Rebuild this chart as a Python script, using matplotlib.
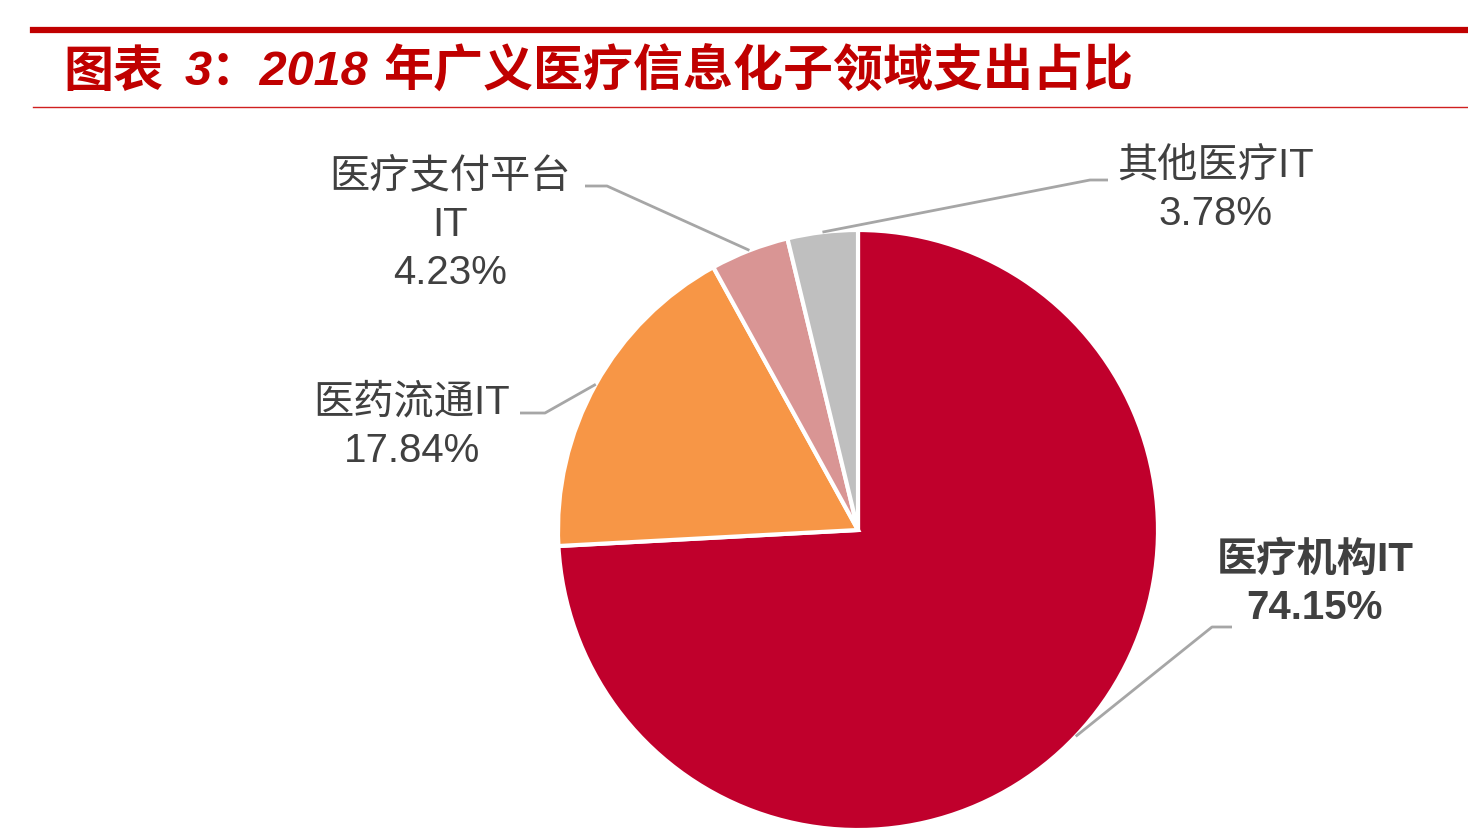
import matplotlib
matplotlib.use("Agg")
import matplotlib.pyplot as plt
import numpy as np

plt.rcParams['font.family'] = ['Liberation Sans', 'Noto Sans CJK SC', 'DejaVu Sans']

categories = ['医疗机构IT', '医药流通IT', '医疗支付平台\nIT', '其他医疗IT']
values = [74.15, 17.84, 4.23, 3.78]
pct_labels = ['74.15%', '17.84%', '4.23%', '3.78%']
colors = ['#C0002C', '#F79646', '#D99594', '#BFBFBF']
title_parts = ['图表', '3：2018', '年广义医疗信息化子领域支出占比']

W, H = 1468, 838
fig = plt.figure(figsize=(W / 100, H / 100), dpi=100)
fig.patch.set_facecolor('white')

# pie axes covering whole figure; 1 data unit = 300 px
cx, cy, R = 858, 530, 300
ax = fig.add_axes([0, 0, 1, 1])
wedges, _ = ax.pie(values, colors=colors, startangle=90, counterclock=False,
                   wedgeprops=dict(edgecolor='white', linewidth=3))
ax.set_xlim(-cx / R, (W - cx) / R)
ax.set_ylim(-(H - cy) / R, cy / R)
ax.set_aspect('auto')
ax.axis('off')


def px(x, y):
    return ((x - cx) / R, (cy - y) / R)


# label layout (pixel positions of text centers and leader elbows)
label_pos = [(1315, 584), (412, 427), (450, 225), (1215, 190)]
elbows = [[(1212, 627), (1232, 627)],
          [(545, 413), (520, 413)],
          [(607, 186), (585, 186)],
          [(1090, 180), (1108, 180)]]
bold = [True, False, False, False]

for w, cat, pct, (lx, ly), elb, b in zip(wedges, categories, pct_labels, label_pos, elbows, bold):
    ang = np.deg2rad((w.theta1 + w.theta2) / 2)
    x0, y0 = np.cos(ang), np.sin(ang)
    pts = [(x0, y0)] + [px(*p) for p in elb]
    xs, ys = zip(*pts)
    ax.plot(xs, ys, color='#A6A6A6', lw=2, solid_capstyle='butt', clip_on=False)
    tx, ty = px(lx, ly)
    ax.text(tx, ty, cat + '\n' + pct, ha='center', va='center', fontsize=29,
            color='#404040', fontweight='bold' if b else 'normal',
            linespacing=1.34, clip_on=False)

# header lines and title
fig.add_artist(plt.Line2D([33 / W, 1], [1 - 30 / H, 1 - 30 / H], color='#C00000', lw=4.5))
fig.add_artist(plt.Line2D([33 / W, 1], [1 - 107.5 / H, 1 - 107.5 / H], color='#D02020', lw=1))
ty = 1 - 72 / H
fig.text(63 / W, ty, title_parts[0], ha='left', va='center', fontsize=36,
         color='#C00000', fontweight='bold', family=['Noto Sans CJK SC', 'DejaVu Sans'])
fig.text(185 / W, ty, title_parts[1], ha='left', va='center', fontsize=35,
         color='#C00000', fontweight='bold', fontstyle='italic',
         family=['Liberation Sans', 'Noto Sans CJK SC'])
fig.text(383 / W, ty, title_parts[2], ha='left', va='center', fontsize=36,
         color='#C00000', fontweight='bold', family=['Noto Sans CJK SC', 'DejaVu Sans'])

fig.savefig('out.png', dpi=100, facecolor='white')
